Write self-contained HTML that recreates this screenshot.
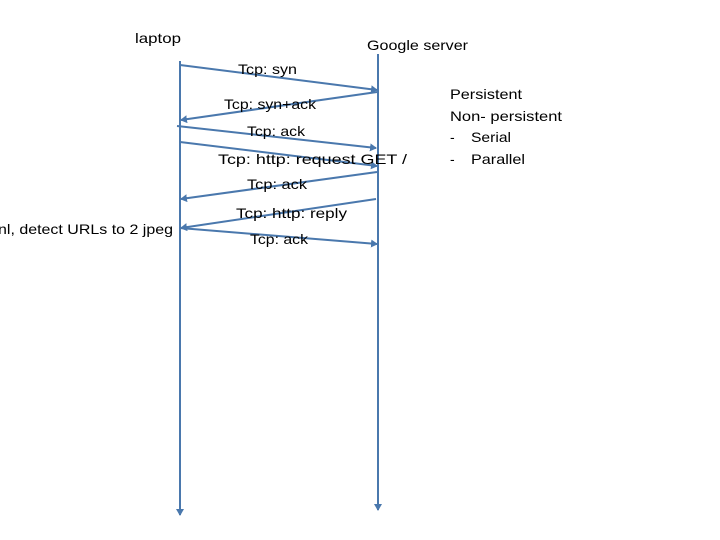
<!DOCTYPE html>
<html><head><style>html,body{margin:0;padding:0;background:#fff;}svg{display:block}</style></head>
<body>
<svg width="720" height="540" viewBox="0 0 720 540" xmlns="http://www.w3.org/2000/svg" font-family="Liberation Sans, sans-serif" font-size="14" fill="#000">
<defs><marker id="a" markerWidth="8" markerHeight="8" refX="6" refY="4" orient="auto" markerUnits="userSpaceOnUse"><path d="M0,0 L7,4 L0,8 Z" fill="#4a78ad"/></marker></defs>
<g stroke="#4a78ad" stroke-width="2" fill="none" marker-end="url(#a)">
<line x1="180" y1="61" x2="180" y2="515"/>
<line x1="378" y1="54" x2="378" y2="510"/>
<line x1="180" y1="65" x2="377" y2="90"/>
<line x1="377" y1="92" x2="181" y2="120"/>
<line x1="177" y1="126" x2="376" y2="148"/>
<line x1="180" y1="142" x2="377" y2="166"/>
<line x1="377" y1="172" x2="181" y2="199"/>
<line x1="376" y1="199" x2="181" y2="228"/>
<line x1="180" y1="228" x2="377" y2="244"/>
</g>
<text x="135" y="43" textLength="46" lengthAdjust="spacingAndGlyphs">laptop</text>
<text x="367" y="50" textLength="101" lengthAdjust="spacingAndGlyphs">Google server</text>
<text x="238" y="74" textLength="59" lengthAdjust="spacingAndGlyphs">Tcp: syn</text>
<text x="224" y="109" textLength="92" lengthAdjust="spacingAndGlyphs">Tcp: syn+ack</text>
<text x="247" y="136" textLength="58" lengthAdjust="spacingAndGlyphs">Tcp: ack</text>
<text x="218" y="164" textLength="189" lengthAdjust="spacingAndGlyphs">Tcp: http: request GET /</text>
<text x="247" y="189" textLength="60" lengthAdjust="spacingAndGlyphs">Tcp: ack</text>
<text x="236" y="218" textLength="111" lengthAdjust="spacingAndGlyphs">Tcp: http: reply</text>
<text x="250" y="244" textLength="58" lengthAdjust="spacingAndGlyphs">Tcp: ack</text>
<text x="-2" y="234" textLength="175" lengthAdjust="spacingAndGlyphs">nl, detect URLs to 2 jpeg</text>
<text x="450" y="99" textLength="72" lengthAdjust="spacingAndGlyphs">Persistent</text>
<text x="450" y="121" textLength="112" lengthAdjust="spacingAndGlyphs">Non- persistent</text>
<text x="450" y="142">-</text><text x="471" y="142" textLength="40" lengthAdjust="spacingAndGlyphs">Serial</text>
<text x="450" y="164">-</text><text x="471" y="164" textLength="54" lengthAdjust="spacingAndGlyphs">Parallel</text>
</svg>
</body></html>
